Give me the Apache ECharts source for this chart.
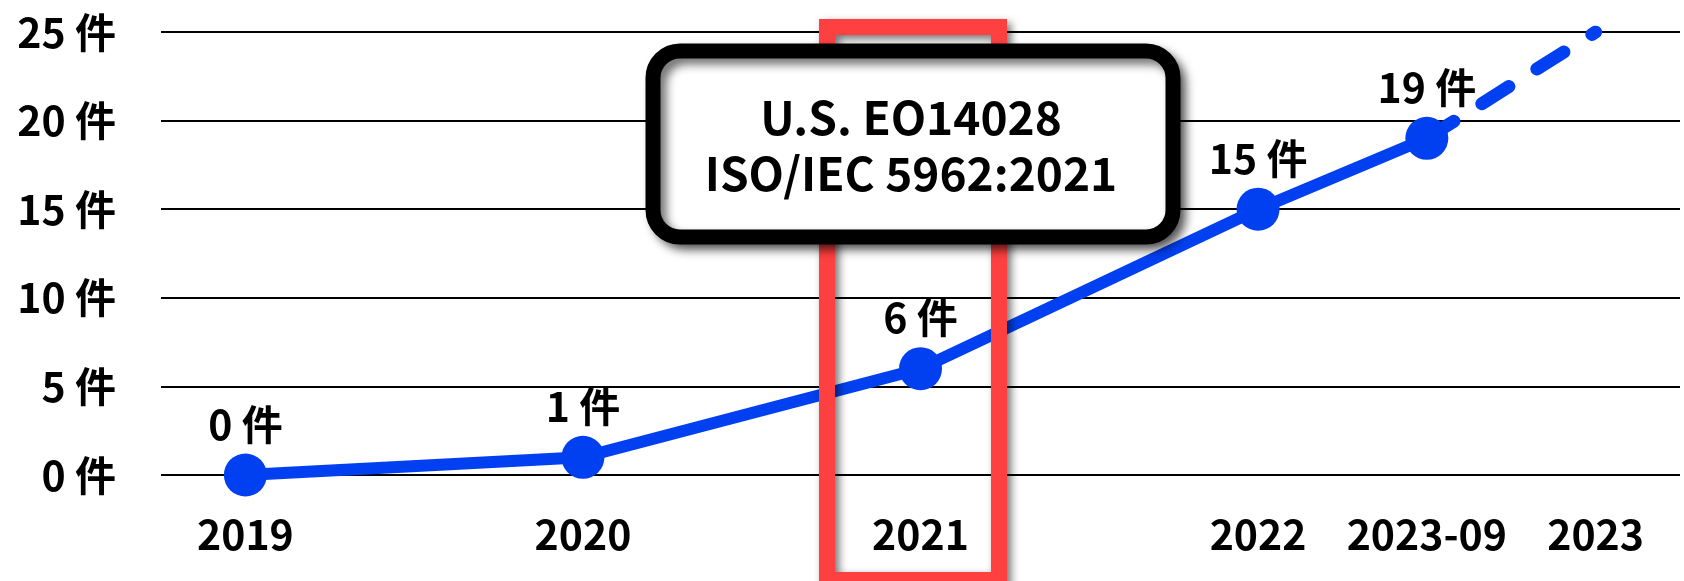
<!DOCTYPE html>
<html>
<head>
<meta charset="utf-8">
<script src="https://cdn.jsdelivr.net/npm/echarts@6/dist/echarts.min.js"></script>
<style>
html,body{margin:0;padding:0;background:#fff;}
#chart{width:1684px;height:581px;}
</style>
</head>
<body>
<div id="chart"></div>
<script>
// Category labels and their positions along the time axis (years; 2023-09 sits mid-way)
const categories = ['2019', '2020', '2021', '2022', '2023-09', '2023'];
const xPos = [0, 1, 2, 3, 3.5, 4];
// Actual counts (solid) and projection (dashed)
const actualValues = [0, 1, 6, 15, 19];
const projectedValues = [19, 25];
const yTicks = [0, 5, 10, 15, 20, 25];
const unit = '件';
const calloutLines = ['U.S. EO14028', 'ISO/IEC 5962:2021'];
const highlightIndex = 2;

const FONT = '"Noto Sans CJK JP", "Noto Sans", sans-serif';
const BLUE = '#0040F0';
const RED = '#FF4040';

const actualData = actualValues.map((v, i) => [xPos[i], v]);
const projStart = actualValues.length - 1;
const projectedData = projectedValues.map((v, i) => [xPos[projStart + i], v]);

const chart = echarts.init(document.getElementById('chart'), null, {renderer: 'canvas'});

const option = {
  animation: false,
  backgroundColor: '#fff',
  grid: {left: 161, right: 4, top: 32, bottom: 106},
  xAxis: {
    type: 'value',
    min: -0.25,
    max: 4.25,
    axisLine: {show: false},
    axisTick: {show: false},
    splitLine: {show: false},
    axisLabel: {
      customValues: xPos,
      formatter: function (v) {
        let best = 0;
        xPos.forEach((p, i) => { if (Math.abs(p - v) < Math.abs(xPos[best] - v)) best = i; });
        return categories[best];
      },
      margin: 39,
      color: '#000',
      fontFamily: FONT,
      fontWeight: 'bold',
      fontSize: 41
    }
  },
  yAxis: {
    type: 'value',
    min: yTicks[0],
    max: yTicks[yTicks.length - 1],
    interval: 5,
    axisLine: {show: false},
    axisTick: {show: false},
    splitLine: {show: true, lineStyle: {color: '#000', width: 2}},
    axisLabel: {
      formatter: '{value} ' + unit,
      margin: 45,
      color: '#000',
      fontFamily: FONT,
      fontWeight: 'bold',
      fontSize: 41
    }
  },
  series: [
    {
      type: 'line',
      data: projectedData,
      showSymbol: false,
      symbol: 'none',
      lineStyle: {color: BLUE, width: 13, type: [32, 33], cap: 'round'},
      z: 2
    },
    {
      type: 'line',
      data: actualData,
      symbol: 'circle',
      symbolSize: 43,
      itemStyle: {color: BLUE},
      lineStyle: {color: BLUE, width: 12},
      label: {
        show: true,
        position: 'top',
        distance: 9,
        formatter: p => p.value[1] + ' ' + unit,
        color: '#000',
        fontFamily: FONT,
        fontWeight: 'bold',
        fontSize: 41
      },
      z: 3
    }
  ]
};
chart.setOption(option);

const p = chart.convertToPixel({gridIndex: 0}, [xPos[highlightIndex], 0]);
const cx = p[0] - 7.5;
chart.setOption({
  graphic: [
    {
      type: 'rect',
      z: 50,
      shape: {x: cx - 86, y: 27, width: 172, height: 553},
      style: {
        fill: 'none',
        stroke: RED,
        lineWidth: 16,
        shadowBlur: 8,
        shadowOffsetX: 4,
        shadowOffsetY: 4,
        shadowColor: 'rgba(0,0,0,0.55)'
      }
    },
    {
      type: 'rect',
      z: 60,
      shape: {x: cx - 260, y: 51, width: 520, height: 186, r: 27},
      style: {
        fill: '#fff',
        stroke: '#000',
        lineWidth: 15,
        shadowBlur: 10,
        shadowOffsetX: 6,
        shadowOffsetY: 6,
        shadowColor: 'rgba(0,0,0,0.55)'
      }
    },
    {
      type: 'text',
      z: 70,
      x: cx - 2,
      y: 146,
      style: {
        text: calloutLines.join('\n'),
        fill: '#000',
        font: 'bold 46px ' + FONT,
        lineHeight: 56,
        align: 'center',
        verticalAlign: 'middle'
      }
    }
  ]
});
</script>
</body>
</html>
